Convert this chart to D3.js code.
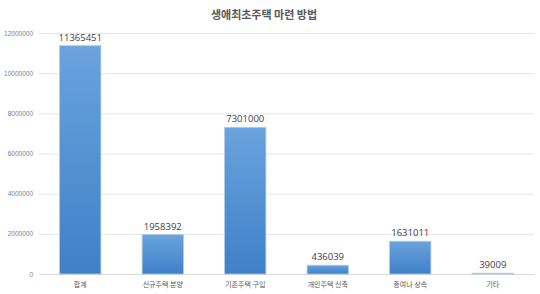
<!DOCTYPE html>
<html><head><meta charset="utf-8">
<script src="https://cdn.jsdelivr.net/npm/d3@7"></script>
<style>body{margin:0;background:#fff}svg{display:block}</style>
</head><body>
<svg id="c" width="540" height="294"></svg>
<script>
const title = "생애최초주택 마련 방법";
const categories = ["합계","신규주택 분양","기존주택 구입","개인주택 신축","증여나 상속","기타"];
const values = [11365451,1958392,7301000,436039,1631011,39009];
const yTicks = [0,2000000,4000000,6000000,8000000,10000000,12000000];

const svg = d3.select("#c");
const W=540,H=294;
const m={l:39,r:6,t:33,b:20};
const x = d3.scaleBand().domain(categories).range([m.l, W-m.r]).paddingInner(0.5).paddingOuter(0.25);
const y = d3.scaleLinear().domain([0,12000000]).range([H-m.b, m.t]);

const defs = svg.append("defs");
const g = defs.append("linearGradient").attr("id","bg").attr("x1",0).attr("y1",0).attr("x2",0).attr("y2",1);
g.append("stop").attr("offset","0%").attr("stop-color","#6aa3dd");
g.append("stop").attr("offset","100%").attr("stop-color","#3f80c8");

svg.append("text").attr("x",264).attr("y",19).attr("text-anchor","middle")
  .attr("font-family","'Noto Sans CJK KR'").attr("font-weight","bold").attr("font-size",11).attr("fill","#595959").text(title);

const yAxis = svg.append("g").attr("transform",`translate(${m.l},0)`)
  .call(d3.axisLeft(y).tickValues(yTicks).tickFormat(d3.format("d")).tickSize(-(W-m.r-m.l)).tickPadding(6));
yAxis.select(".domain").remove();
yAxis.selectAll(".tick line").attr("stroke","#e6e6e6");
yAxis.selectAll(".tick text").attr("fill","#7f7f7f").attr("font-size",6.5).attr("font-family","'Liberation Sans'");

const xAxis = svg.append("g").attr("transform",`translate(0,${H-m.b})`)
  .call(d3.axisBottom(x).tickSize(0).tickPadding(8));
xAxis.select(".domain").attr("stroke","#d9d9d9");
xAxis.selectAll(".tick text").attr("fill","#595959").attr("font-size",7).attr("font-family","'Noto Sans CJK KR'");

svg.selectAll("rect.bar").data(values).join("rect").attr("class","bar")
  .attr("x",(d,i)=>x(categories[i])).attr("width",x.bandwidth())
  .attr("y",d=>y(d)).attr("height",d=>y(0)-y(d))
  .attr("fill","url(#bg)").attr("stroke","#a9c8ea").attr("stroke-width",0.8);

svg.selectAll("text.val").data(values).join("text").attr("class","val")
  .attr("x",(d,i)=>x(categories[i])+x.bandwidth()/2).attr("y",d=>y(d)-5)
  .attr("text-anchor","middle").attr("font-size",9.5).attr("font-family","'Open Sans'").attr("fill","#404040")
  .text(d=>d);
</script>
</body></html>
